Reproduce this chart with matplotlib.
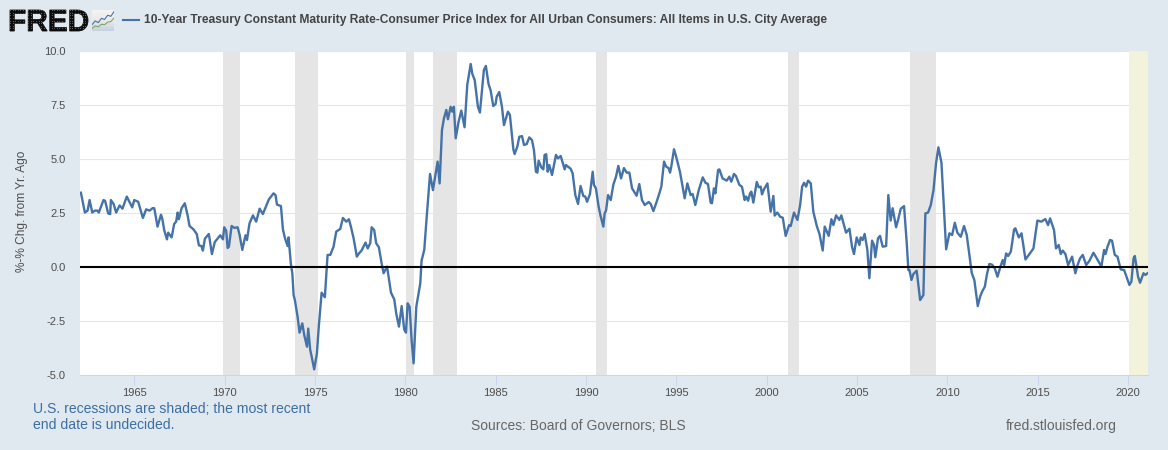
import numpy as np
import matplotlib.pyplot as plt
from matplotlib.colors import LinearSegmentedColormap
from matplotlib.font_manager import FontProperties
from matplotlib.patches import PathPatch
from matplotlib.textpath import TextPath
from matplotlib.transforms import Affine2D

plt.rcParams['font.family'] = ['Liberation Sans', 'DejaVu Sans']

W, H = 1168, 450
BG = '#e1e9f0'
BLUE = '#4572a7'

years = [
    1962.05, 1962.27, 1962.42, 1962.53, 1962.68, 1962.82, 1962.97, 1963.04, 1963.30, 1963.39,
    1963.56, 1963.67, 1963.71, 1963.86, 1964.00, 1964.19, 1964.35, 1964.59, 1964.89, 1965.00,
    1965.22, 1965.48, 1965.66, 1965.85, 1966.03, 1966.11, 1966.29, 1966.48, 1966.55, 1966.66,
    1966.81, 1966.88, 1967.07, 1967.21, 1967.32, 1967.40, 1967.47, 1967.62, 1967.80, 1967.95,
    1968.06, 1968.28, 1968.46, 1968.58, 1968.72, 1968.80, 1968.91, 1969.13, 1969.30, 1969.46,
    1969.61, 1969.76, 1969.91, 1969.98, 1970.09, 1970.17, 1970.24, 1970.39, 1970.54, 1970.72,
    1970.83, 1970.98, 1971.16, 1971.24, 1971.38, 1971.57, 1971.75, 1971.94, 1972.12, 1972.45,
    1972.71, 1972.82, 1972.90, 1973.12, 1973.23, 1973.34, 1973.49, 1973.54, 1973.67, 1973.75,
    1973.82, 1973.89, 1974.04, 1974.15, 1974.30, 1974.41, 1974.56, 1974.63, 1974.74, 1974.82,
    1974.96, 1975.11, 1975.22, 1975.37, 1975.55, 1975.70, 1975.85, 1976.03, 1976.18, 1976.40,
    1976.55, 1976.73, 1976.88, 1976.99, 1977.14, 1977.32, 1977.44, 1977.58, 1977.80, 1977.92,
    1978.06, 1978.14, 1978.28, 1978.39, 1978.54, 1978.69, 1978.80, 1978.99, 1979.10, 1979.21,
    1979.39, 1979.50, 1979.65, 1979.80, 1979.94, 1980.04, 1980.13, 1980.24, 1980.35, 1980.46,
    1980.61, 1980.83, 1980.90, 1981.05, 1981.20, 1981.37, 1981.53, 1981.79, 1981.90, 1982.03,
    1982.14, 1982.27, 1982.36, 1982.51, 1982.60, 1982.69, 1982.79, 1982.95, 1983.10, 1983.28,
    1983.43, 1983.62, 1983.71, 1983.84, 1984.02, 1984.13, 1984.35, 1984.46, 1984.61, 1984.72,
    1984.87, 1985.00, 1985.06, 1985.20, 1985.35, 1985.46, 1985.68, 1985.79, 1985.98, 1986.05,
    1986.20, 1986.31, 1986.46, 1986.57, 1986.72, 1986.86, 1987.01, 1987.12, 1987.23, 1987.31,
    1987.38, 1987.53, 1987.64, 1987.71, 1987.80, 1987.88, 1987.97, 1988.12, 1988.34, 1988.45,
    1988.60, 1988.82, 1988.89, 1989.15, 1989.26, 1989.41, 1989.56, 1989.70, 1989.85, 1989.96,
    1990.06, 1990.22, 1990.37, 1990.44, 1990.55, 1990.70, 1990.81, 1990.96, 1991.03, 1991.11,
    1991.22, 1991.37, 1991.51, 1991.66, 1991.79, 1991.94, 1992.10, 1992.25, 1992.40, 1992.55,
    1992.66, 1992.80, 1992.95, 1993.10, 1993.25, 1993.47, 1993.58, 1993.73, 1993.91, 1994.06,
    1994.17, 1994.32, 1994.43, 1994.58, 1994.65, 1994.72, 1994.87, 1994.98, 1995.20, 1995.46,
    1995.61, 1995.79, 1995.90, 1996.05, 1996.24, 1996.46, 1996.61, 1996.75, 1996.90, 1996.97,
    1997.08, 1997.16, 1997.31, 1997.38, 1997.56, 1997.79, 1997.93, 1998.04, 1998.19, 1998.30,
    1998.49, 1998.63, 1998.78, 1998.86, 1998.97, 1999.08, 1999.15, 1999.26, 1999.45, 1999.56,
    1999.67, 1999.74, 1999.85, 2000.04, 2000.22, 2000.37, 2000.44, 2000.59, 2000.74, 2000.89,
    2001.05, 2001.24, 2001.33, 2001.51, 2001.70, 2001.85, 2001.96, 2002.07, 2002.18, 2002.29,
    2002.44, 2002.58, 2002.77, 2002.92, 2003.10, 2003.21, 2003.43, 2003.58, 2003.69, 2003.84,
    2004.02, 2004.13, 2004.39, 2004.58, 2004.72, 2004.83, 2004.98, 2005.13, 2005.20, 2005.31,
    2005.42, 2005.57, 2005.68, 2005.83, 2005.94, 2006.01, 2006.16, 2006.27, 2006.42, 2006.61,
    2006.73, 2006.86, 2006.97, 2007.16, 2007.27, 2007.42, 2007.60, 2007.75, 2007.84, 2007.90,
    2008.01, 2008.12, 2008.30, 2008.49, 2008.67, 2008.78, 2008.93, 2009.08, 2009.23, 2009.37,
    2009.50, 2009.67, 2009.93, 2010.11, 2010.26, 2010.41, 2010.55, 2010.74, 2010.92, 2011.07,
    2011.35, 2011.49, 2011.68, 2011.81, 2011.92, 2012.07, 2012.18, 2012.32, 2012.47, 2012.62,
    2012.77, 2012.92, 2013.06, 2013.14, 2013.25, 2013.36, 2013.51, 2013.69, 2013.76, 2013.95,
    2014.10, 2014.32, 2014.54, 2014.76, 2014.98, 2015.20, 2015.42, 2015.57, 2015.68, 2015.90,
    2016.01, 2016.16, 2016.27, 2016.38, 2016.53, 2016.68, 2016.90, 2017.08, 2017.20, 2017.34,
    2017.49, 2017.68, 2017.86, 2018.08, 2018.30, 2018.52, 2018.67, 2018.75, 2018.86, 2019.00,
    2019.11, 2019.26, 2019.41, 2019.59, 2019.78, 2020.07, 2020.18, 2020.30, 2020.37, 2020.55,
    2020.66, 2020.85, 2020.96, 2021.07,
]

spread = [
    3.44, 2.52, 2.61, 3.10, 2.52, 2.61, 2.61, 2.52, 3.10, 3.06,
    2.48, 2.45, 3.10, 2.92, 2.52, 2.85, 2.70, 3.26, 2.76, 3.10,
    3.02, 2.27, 2.67, 2.61, 2.73, 2.72, 1.87, 2.42, 2.25, 1.71,
    1.28, 1.59, 1.37, 1.99, 2.10, 2.52, 2.21, 2.72, 2.95, 2.41,
    1.90, 1.74, 1.53, 1.00, 0.97, 0.76, 1.31, 1.53, 0.60, 1.16,
    1.31, 1.47, 1.28, 1.84, 1.68, 0.88, 0.94, 1.90, 1.81, 1.84,
    1.50, 0.79, 1.47, 1.25, 2.02, 2.39, 2.10, 2.70, 2.45, 3.13,
    3.41, 3.33, 2.89, 2.82, 1.74, 1.34, 0.97, 1.37, 0.14, -0.29,
    -1.30, -1.53, -2.30, -3.04, -2.61, -3.15, -3.69, -2.85, -3.84, -4.15,
    -4.74, -4.00, -2.69, -1.19, -1.40, 0.56, 0.56, 0.94, 1.64, 1.76,
    2.27, 2.10, 2.21, 1.87, 1.33, 0.48, 0.63, 0.76, 1.13, 0.86,
    1.10, 1.84, 1.71, 1.10, 0.91, 0.17, -0.29, 0.02, -0.60, -1.19,
    -1.50, -2.15, -2.76, -1.81, -2.89, -3.04, -1.68, -1.84, -3.38, -4.46,
    -1.84, -0.76, 0.29, 0.79, 2.48, 4.31, 3.56, 4.88, 3.87, 6.34,
    6.88, 7.27, 6.84, 7.42, 7.19, 7.42, 5.96, 6.73, 7.24, 6.47,
    8.43, 9.40, 8.94, 8.66, 7.42, 7.15, 9.12, 9.31, 8.46, 8.19,
    7.45, 7.55, 7.89, 8.10, 7.42, 6.57, 7.19, 7.04, 5.45, 5.23,
    5.57, 6.03, 6.06, 5.65, 5.69, 6.00, 5.88, 5.42, 4.41, 4.37,
    4.92, 4.61, 4.52, 5.19, 5.22, 4.41, 4.72, 4.26, 5.19, 5.03,
    5.14, 4.52, 4.72, 4.55, 4.34, 3.33, 2.92, 3.75, 3.29, 3.26,
    3.02, 3.38, 4.41, 3.80, 3.64, 2.79, 2.36, 1.87, 2.48, 2.61,
    3.33, 3.10, 3.80, 4.18, 4.68, 4.10, 4.58, 4.37, 4.37, 3.64,
    3.49, 3.30, 3.84, 3.10, 2.87, 3.01, 2.92, 2.59, 3.02, 3.41,
    3.72, 4.88, 4.65, 4.57, 4.37, 4.65, 5.45, 5.14, 4.41, 3.18,
    3.87, 3.33, 3.38, 2.87, 3.56, 4.15, 3.90, 3.84, 2.98, 2.95,
    3.64, 3.41, 4.49, 4.52, 4.10, 4.00, 4.18, 3.95, 4.31, 4.21,
    3.80, 3.72, 3.10, 3.26, 3.07, 3.41, 3.49, 2.98, 3.94, 3.69,
    3.72, 3.36, 3.60, 3.87, 2.56, 3.29, 2.38, 2.52, 2.33, 2.28,
    1.44, 1.94, 1.90, 2.52, 2.18, 2.87, 3.72, 3.90, 3.72, 4.00,
    3.87, 2.56, 1.90, 1.53, 0.76, 1.87, 1.44, 2.21, 1.94, 2.39,
    2.18, 2.39, 1.59, 1.77, 0.94, 0.60, 1.37, 1.02, 1.37, 1.25,
    1.53, 0.79, -0.52, 1.22, 1.02, 0.45, 1.33, 1.44, 0.94, 0.97,
    3.33, 2.15, 2.72, 1.84, 2.18, 2.70, 2.82, 1.10, -0.14, -0.14,
    -0.60, -0.32, -0.17, -1.53, -1.30, 2.48, 2.52, 2.87, 3.56, 4.80,
    5.54, 4.83, 0.82, 1.56, 1.48, 2.05, 1.59, 1.40, 1.90, 1.48,
    -0.29, -0.60, -1.81, -1.37, -1.14, -0.91, -0.37, 0.14, 0.11, -0.06,
    -0.45, -0.02, 0.32, 0.09, 0.63, 0.51, 0.71, 1.74, 1.79, 1.37,
    1.56, 0.35, 0.60, 0.86, 2.15, 2.10, 2.22, 1.94, 2.25, 1.71,
    0.86, 1.02, 0.60, 0.76, 0.60, 0.09, 0.48, -0.29, 0.09, 0.40,
    0.56, 0.09, 0.29, 0.66, 0.35, 0.02, 0.79, 0.60, 0.94, 1.25,
    1.22, 0.56, 0.48, -0.11, -0.14, -0.83, -0.68, 0.40, 0.51, -0.45,
    -0.73, -0.29, -0.37, -0.29,
]

recessions = [
    (1969.94, 1970.85), (1973.87, 1975.17), (1980.02, 1980.50), (1981.53, 1982.85),
    (1990.53, 1991.14), (2001.18, 2001.81), (2007.92, 2009.37),
]
open_recession = (2020.07, 2021.10)

x_ticks = list(range(1965, 2021, 5))
y_ticks = [-5.0, -2.5, 0.0, 2.5, 5.0, 7.5, 10.0]

# little trend lines inside the logo icon
icon_blue = [0.30, 0.48, 0.40, 0.60, 0.55, 0.75, 0.70, 0.92]
icon_green = [0.12, 0.24, 0.20, 0.32, 0.30, 0.42, 0.45, 0.62]

fig = plt.figure(figsize=(W / 100, H / 100), dpi=100, facecolor=BG)
ax = fig.add_axes([80 / W, 1 - 375 / H, 1068 / W, 324 / H])

ax.set_xlim(1962.0, 2021.1)
ax.set_ylim(-5, 10)
ax.set_yticks(y_ticks)
ax.set_yticklabels(['%.1f' % v for v in y_ticks], fontsize=8, color='#4d4d4d')
ax.set_xticks(x_ticks)
ax.set_xticklabels([str(v) for v in x_ticks], fontsize=8, color='#4d4d4d')
ax.tick_params(axis='y', length=0, pad=10.5)
ax.tick_params(axis='x', length=7, width=0.75, color='#ccd6eb', pad=2)
ax.grid(axis='y', color='#e6e6e6', linewidth=0.8)
ax.set_axisbelow(True)
for name in ['top', 'left', 'right']:
    ax.spines[name].set_visible(False)
ax.spines['bottom'].set_color('#ccd6eb')
ax.spines['bottom'].set_linewidth(0.75)

for start, end in recessions:
    ax.axvspan(start, end, color='#e5e5e5', lw=0, zorder=1)
ax.axvspan(open_recession[0], open_recession[1], color='#f3f3dc', lw=0, zorder=1)

ax.plot(years, spread, color=BLUE, linewidth=1.7, solid_joinstyle='round', zorder=3)
ax.axhline(0, color='black', linewidth=1.5, zorder=4)

ax.set_ylabel('%-% Chg. from Yr. Ago', fontsize=8.6, color='#4d4d4d')
ax.yaxis.set_label_coords((28 - 80) / 1068, 0.505)

# header logo: heavy lettering with a grid of small dots clipped to it
logo = fig.add_axes([0, 1 - 45 / H, 120 / W, 45 / H])
logo.set_xlim(0, 120)
logo.set_ylim(0, 45)
logo.axis('off')
letters = TextPath((10, 14), 'FRED', size=28, prop=FontProperties(family='Liberation Sans', weight='bold'))
box = letters.get_extents()
letters = letters.transformed(Affine2D()
                              .translate(-box.x0, -box.y0)
                              .scale(78 / box.width, 21 / box.height)
                              .translate(10, 14))
mark = PathPatch(letters, facecolor='#0d0d0d', edgecolor='#0d0d0d', linewidth=0.6)
logo.add_patch(mark)
dot_x, dot_y = np.meshgrid(np.arange(10, 89, 2.6), np.arange(14, 36, 2.6))
dots = logo.scatter(dot_x.ravel(), dot_y.ravel(), s=0.4, color='#6e6e6e', linewidths=0)
dots.set_clip_path(mark)

icon = fig.add_axes([92 / W, 1 - 31 / H, 22 / W, 21 / H])
fade = LinearSegmentedColormap.from_list('fade', ['#f4f4f0', '#e8ebe8', '#c6d2e2'])
icon.imshow(np.linspace(0, 1, 16).reshape(-1, 1), cmap=fade, aspect='auto', extent=(0, 1, 0, 1))
icon.plot(np.arange(8) / 7, icon_blue, color=BLUE, linewidth=0.8)
icon.plot(np.arange(8) / 7, icon_green, color='#7da85a', linewidth=0.8)
icon.set_xlim(0, 1)
icon.set_ylim(0, 1)
icon.axis('off')

# legend key and series title
fig.add_artist(plt.Line2D([123 / W, 139 / W], [1 - 20 / H, 1 - 20 / H], color=BLUE, linewidth=1.5))
fig.text(144 / W, 1 - 20 / H,
         '10-Year Treasury Constant Maturity Rate-Consumer Price Index for All Urban Consumers: All Items in U.S. City Average',
         fontsize=8.63, fontweight='bold', color='#444444', ha='left', va='center')

# footer notes
fig.text(33 / W, 1 - 409 / H, 'U.S. recessions are shaded; the most recent', fontsize=10.05,
         color='#3c6ea5', ha='left', va='center')
fig.text(33 / W, 1 - 425 / H, 'end date is undecided.', fontsize=10.05,
         color='#3c6ea5', ha='left', va='center')
fig.text(471 / W, 1 - 426 / H, 'Sources: Board of Governors; BLS', fontsize=10,
         color='#666666', ha='left', va='center')
fig.text(1117 / W, 1 - 426 / H, 'fred.stlouisfed.org', fontsize=10,
         color='#666666', ha='right', va='center')

fig.savefig('out.png', dpi=100, facecolor=BG)
